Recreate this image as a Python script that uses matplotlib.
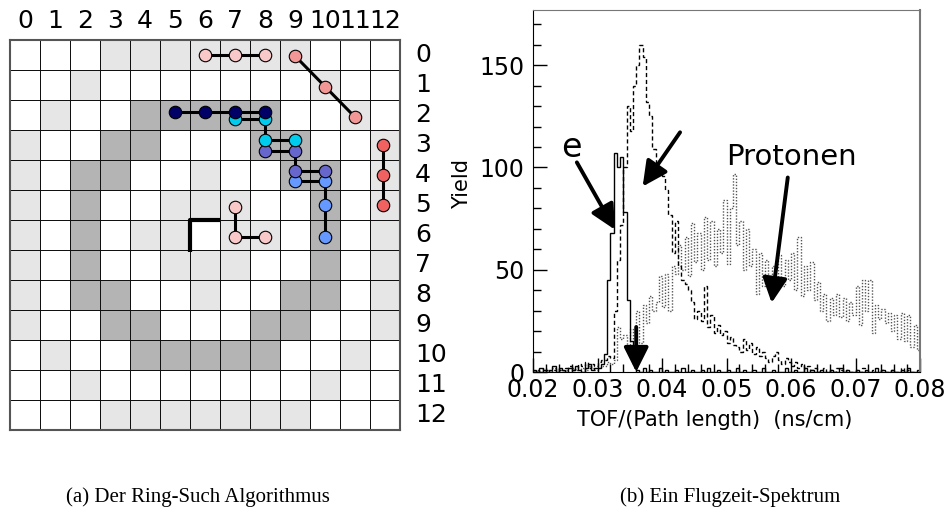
import numpy as np
import matplotlib
matplotlib.use('Agg')
import matplotlib.pyplot as plt
from matplotlib.colors import ListedColormap
from matplotlib.ticker import MultipleLocator

# ---- (a) ring search grid: 0 = empty, 1 = light, 2 = dark
celdas = [
    [0, 0, 0, 1, 1, 1, 1, 1, 1, 1, 0, 0, 0],
    [0, 0, 1, 0, 0, 0, 0, 0, 0, 0, 1, 0, 0],
    [0, 1, 0, 0, 2, 2, 2, 2, 2, 0, 0, 1, 0],
    [1, 0, 0, 2, 2, 0, 0, 0, 2, 2, 0, 0, 1],
    [1, 0, 2, 2, 0, 0, 1, 0, 0, 2, 2, 0, 1],
    [1, 0, 2, 0, 0, 1, 1, 1, 0, 0, 2, 0, 1],
    [1, 0, 2, 0, 1, 1, 0, 1, 1, 0, 2, 0, 1],
    [1, 0, 2, 0, 0, 1, 1, 1, 0, 0, 2, 0, 1],
    [1, 0, 2, 2, 0, 0, 1, 0, 0, 2, 2, 0, 1],
    [1, 0, 0, 2, 2, 0, 0, 0, 2, 2, 0, 0, 1],
    [0, 1, 0, 0, 2, 2, 2, 2, 2, 0, 0, 1, 0],
    [0, 0, 1, 0, 0, 0, 0, 0, 0, 0, 1, 0, 0],
    [0, 0, 0, 1, 1, 1, 1, 1, 1, 1, 0, 0, 0],
]

# tracks (row, col)
spur_rosa1 = [(0, 6), (0, 7), (0, 8)]
spur_lachs = [(0, 9), (1, 10), (2, 11)]
spur_rot = [(3, 12), (4, 12), (5, 12)]
spur_rosa2 = [(5, 7), (6, 7), (6, 8)]
spur_cyan = [(2, 7), (2, 8), (3, 8), (3, 9)]
spur_violett = [(3, 8), (3, 9), (4, 9), (4, 10)]
spur_blau = [(4, 9), (4, 10), (5, 10), (6, 10)]
spur_navy = [(2, 5), (2, 6), (2, 7), (2, 8)]

# ---- (b) TOF spectrum, bins of 0.0005 from 0.02 to 0.08
elektronen = [
    1, 0, 2, 1, 0, 1, 3, 0, 2, 1,
    0, 2, 1, 3, 1, 0, 2, 4, 1, 2,
    2, 4, 9, 45, 68, 107, 100, 105, 78, 35,
    15, 4, 1, 0, 2, 0, 1, 0, 0, 2,
    0, 1, 0, 0, 1, 0, 2, 0, 0, 1,
    0, 0, 1, 0, 2, 0, 0, 1, 0, 0,
    1, 0, 0, 2, 0, 1, 0, 0, 1, 0,
    0, 2, 0, 0, 1, 0, 0, 0, 2, 0,
    0, 1, 0, 0, 2, 0, 1, 0, 0, 1,
    0, 0, 1, 0, 0, 2, 0, 1, 0, 0,
    1, 0, 0, 1, 0, 0, 2, 0, 1, 0,
    0, 1, 0, 0, 1, 0, 2, 0, 0, 1,
]
pionen = [
    0, 1, 0, 2, 1, 0, 1, 2, 1, 0,
    2, 3, 1, 2, 4, 3, 5, 2, 4, 3,
    5, 6, 6, 8, 7, 30, 55, 72, 100, 130,
    118, 140, 150, 160, 154, 132, 125, 109, 100, 98,
    96, 89, 77, 58, 74, 52, 45, 43, 40, 34,
    26, 30, 25, 42, 22, 28, 19, 23, 18, 20,
    14, 17, 13, 12, 10, 16, 11, 14, 9, 12,
    8, 10, 7, 5, 8, 10, 6, 4, 7, 5,
    3, 5, 2, 4, 2, 3, 1, 2, 0, 1,
    2, 0, 1, 0, 2, 1, 0, 1, 0, 0,
    1, 0, 2, 0, 0, 1, 0, 0, 1, 0,
    0, 1, 0, 0, 2, 0, 1, 0, 0, 0,
]
protonen = [
    0, 1, 0, 0, 1, 0, 2, 0, 1, 0,
    1, 0, 2, 1, 0, 2, 1, 3, 2, 1,
    2, 3, 3, 5, 4, 6, 22, 16, 18, 12,
    21, 15, 30, 14, 33, 24, 37, 30, 34, 47,
    32, 48, 30, 52, 48, 62, 50, 66, 47, 73,
    54, 68, 50, 76, 55, 74, 52, 70, 58, 84,
    53, 80, 97, 62, 74, 50, 70, 52, 60, 38,
    58, 42, 55, 40, 52, 46, 57, 42, 55, 45,
    58, 40, 66, 37, 52, 40, 54, 35, 44, 30,
    38, 25, 36, 28, 38, 27, 36, 25, 34, 28,
    42, 23, 45, 30, 45, 19, 33, 26, 31, 24,
    29, 20, 28, 16, 29, 15, 28, 12, 23, 11,
]

fig = plt.figure(figsize=(9.47, 5.19), dpi=100)
W, H = 947, 519

# ---------------- left panel
ax1 = fig.add_axes([10 / W, 1 - 430 / H, 390 / W, 390 / H])
n = len(celdas)
cmap = ListedColormap(['white', '#e6e6e6', '#b4b4b4'])
ax1.pcolormesh(np.arange(n + 1), np.arange(n + 1), np.array(celdas), cmap=cmap,
               vmin=0, vmax=2, edgecolors='#111111', linewidth=0.55)
ax1.set_xlim(0, n)
ax1.set_ylim(n, 0)
ax1.set_xticks([])
ax1.set_yticks([])
for s in ax1.spines.values():
    s.set_color('#555555')
    s.set_linewidth(1.5)

for c in range(n):
    ax1.text(c + 0.5, -0.62, str(c), ha='center', va='center', fontsize=18, clip_on=False)
for r in range(n):
    ax1.text(13.5, r + 0.5, str(r), ha='left', va='center', fontsize=18, clip_on=False)

# thick L-shaped box at the centre cell
ax1.plot([6, 6, 7], [7.05, 6, 6], color='black', lw=3, solid_capstyle='butt', zorder=3)


def spur(ax, pts, farbe, dy, dx=0.0):
    xs = [c + 0.5 + dx for r, c in pts]
    ys = [r + 0.5 + dy[i] for i, (r, c) in enumerate(pts)]
    ax.plot(xs, ys, color='black', lw=2.2, zorder=4)
    ax.plot(xs, ys, ls='none', marker='o', ms=9, mfc=farbe, mec='black', mew=0.8, zorder=5)


spur(ax1, spur_rosa1, '#f9c9c9', [0, 0, 0])
spur(ax1, spur_lachs, '#f29696', [0.03, 0.05, 0.07])
spur(ax1, spur_rot, '#f06262', [0, 0, 0], dx=-0.07)
spur(ax1, spur_rosa2, '#f9c9c9', [0.05, 0.07, 0.07])
spur(ax1, spur_blau, '#6699ff', [0.2, 0.2, 0.0, 0.07])
spur(ax1, spur_violett, '#6666cc', [0.2, 0.2, -0.13, -0.13])
spur(ax1, spur_cyan, '#00ccee', [0.13, 0.13, -0.17, -0.17])
spur(ax1, spur_navy, '#000066', [-0.1, -0.1, -0.1, -0.1])

# ---------------- right panel
ax2 = fig.add_axes([533 / W, 1 - 372 / H, 387 / W, 362 / H])
kanten = np.linspace(0.02, 0.08, len(pionen) + 1)
ax2.stairs(protonen, kanten, baseline=None, color='#555555', lw=1.0, linestyle=(0, (1, 1.2)))
ax2.stairs(pionen, kanten, baseline=None, color='black', lw=1.0, linestyle=(0, (3, 2)))
ax2.stairs(elektronen, kanten, baseline=None, color='black', lw=1.0)

ax2.set_xlim(0.02, 0.08)
ax2.set_ylim(0, 177)
ax2.set_xticks([0.02, 0.03, 0.04, 0.05, 0.06, 0.07, 0.08])
ax2.set_xticklabels(['0.02', '0.03', '0.04', '0.05', '0.06', '0.07', '0.08'])
ax2.set_yticks([0, 50, 100, 150])
ax2.xaxis.set_minor_locator(MultipleLocator(0.002))
ax2.yaxis.set_minor_locator(MultipleLocator(10))
ax2.tick_params(which='major', direction='in', length=10, width=1, labelsize=17, pad=4)
ax2.tick_params(which='minor', direction='in', length=6, width=1)
ax2.tick_params(axis='y', pad=6)
ax2.spines['right'].set_color('#777777')
ax2.spines['right'].set_linewidth(1.5)
ax2.spines['top'].set_color('#777777')

ax2.set_ylabel('Yield', fontsize=15)
ax2.yaxis.set_label_coords((472 - 533) / 387, (372 - 184) / 362)
ax2.set_xlabel('TOF/(Path length)  (ns/cm)', fontsize=15)
ax2.xaxis.set_label_coords((715 - 533) / 387, (372 - 410) / 362)

pfeil = dict(arrowstyle='-|>,head_length=0.6,head_width=0.3', lw=2.8, color='black',
             mutation_scale=25, shrinkA=0, shrinkB=0)
ax2.text(0.0259, 110, 'e', fontsize=24, ha='center', va='center')
ax2.annotate('', xy=(0.0327, 69.6), xytext=(0.0268, 102.5), arrowprops=pfeil)
ax2.annotate('', xy=(0.0370, 90.7), xytext=(0.0428, 117.2), arrowprops=pfeil)
ax2.text(0.0600, 105, 'Protonen', fontsize=21, ha='center', va='center')
ax2.annotate('', xy=(0.0570, 33.8), xytext=(0.0595, 95.1), arrowprops=pfeil)
ax2.annotate('', xy=(0.0360, 0), xytext=(0.0360, 22), arrowprops=pfeil)

# captions
fig.text(198 / W, 1 - 497 / H, '(a) Der Ring-Such Algorithmus', family='Liberation Serif',
         fontsize=15, ha='center', va='center')
fig.text(730 / W, 1 - 497 / H, '(b) Ein Flugzeit-Spektrum', family='Liberation Serif',
         fontsize=15, ha='center', va='center')

fig.savefig('out.png', dpi=100)
